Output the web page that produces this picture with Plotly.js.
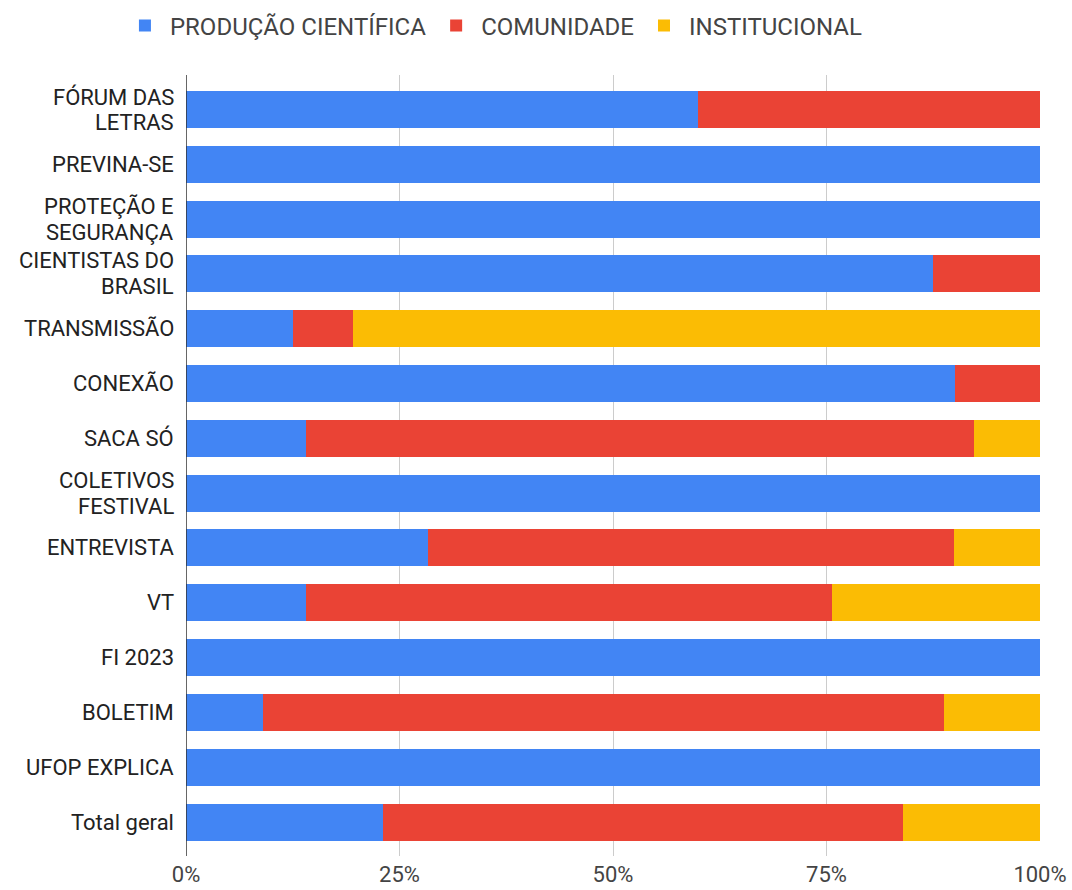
<!DOCTYPE html>
<html>
<head>
<meta charset="utf-8">
<script src="https://cdn.plot.ly/plotly-3.0.1.min.js"></script>
<style>html,body{margin:0;padding:0;background:#fff;}#chart{width:1072px;height:890px;}</style>
</head>
<body>
<div id="chart"></div>
<script>
const categories = ["FÓRUM DAS<br>LETRAS", "PREVINA-SE", "PROTEÇÃO E<br>SEGURANÇA", "CIENTISTAS DO<br>BRASIL", "TRANSMISSÃO", "CONEXÃO", "SACA SÓ", "COLETIVOS<br>FESTIVAL", "ENTREVISTA", "VT", "FI 2023", "BOLETIM", "UFOP EXPLICA", "Total geral"];
const producaoCientifica = [60.0, 100, 100, 87.5, 12.5, 90.0, 14.0, 100, 28.3, 14.0, 100, 9.0, 100, 23.1];
const comunidade = [40.0, 0, 0, 12.5, 7.0, 10.0, 78.3, 0, 61.6, 61.6, 0, 79.8, 0, 60.8];
const institucional = [0, 0, 0, 0, 80.5, 0, 7.7, 0, 10.1, 24.4, 0, 11.2, 0, 16.1];
const seriesNames = ["PRODUÇÃO CIENTÍFICA", "COMUNIDADE", "INSTITUCIONAL"];
const xTickVals = [0, 25, 50, 75, 100];
const xTickText = ["0%", "25%", "50%", "75%", "100%"];

const colors = ["#4285F4", "#EA4335", "#FBBC04"];
const FAM = "Roboto, Arial, sans-serif";
const data = [producaoCientifica, comunidade, institucional].map((vals, i) => ({
  type: "bar",
  orientation: "h",
  name: seriesNames[i],
  y: categories,
  x: vals,
  marker: {color: colors[i], line: {width: 0}},
  hoverinfo: "x+y+name"
}));

// category labels at the category positions, one text per line (tight line spacing)
const annotations = [];
categories.forEach(cat => {
  const lines = cat.split("<br>");
  lines.forEach((ln, j) => {
    annotations.push({
      xref: "paper", yref: "y",
      x: 0, y: cat,
      xanchor: "right", yanchor: "middle",
      xshift: -10,
      yshift: ((lines.length - 1) / 2 - j) * 26,
      text: ln,
      showarrow: false,
      font: {family: FAM, size: 22, color: "#222"}
    });
  });
});

const layout = {
  width: 1072, height: 890,
  margin: {l: 186, r: 32, t: 75, b: 34, pad: 0, autoexpand: false},
  barmode: "stack",
  bargap: 0.325,
  paper_bgcolor: "#fff",
  plot_bgcolor: "#fff",
  font: {family: FAM, size: 22, color: "#222"},
  showlegend: true,
  legend: {
    orientation: "h",
    x: 0.36, xanchor: "center",
    y: 1.063, yanchor: "middle",
    font: {family: FAM, size: 24, color: "#444"},
    itemwidth: 40,
    traceorder: "normal"
  },
  xaxis: {
    range: [0, 100],
    tickvals: xTickVals,
    ticktext: xTickText,
    showgrid: true,
    gridcolor: "#cccccc",
    gridwidth: 1,
    zeroline: false,
    showline: false,
    ticks: "",
    ticklabelstandoff: 3,
    tickfont: {family: FAM, size: 22, color: "#444"},
    fixedrange: true
  },
  yaxis: {
    type: "category",
    range: [13.62, -0.63],
    showgrid: false,
    zeroline: false,
    showline: false,
    showticklabels: false,
    ticks: "",
    fixedrange: true
  },
  annotations: annotations,
  shapes: [{
    type: "line", xref: "x", yref: "paper",
    x0: 0, x1: 0, y0: 0, y1: 1,
    line: {color: "#333", width: 1.5}
  }]
};

Plotly.newPlot("chart", data, layout, {displayModeBar: false, staticPlot: true});
</script>
</body>
</html>
